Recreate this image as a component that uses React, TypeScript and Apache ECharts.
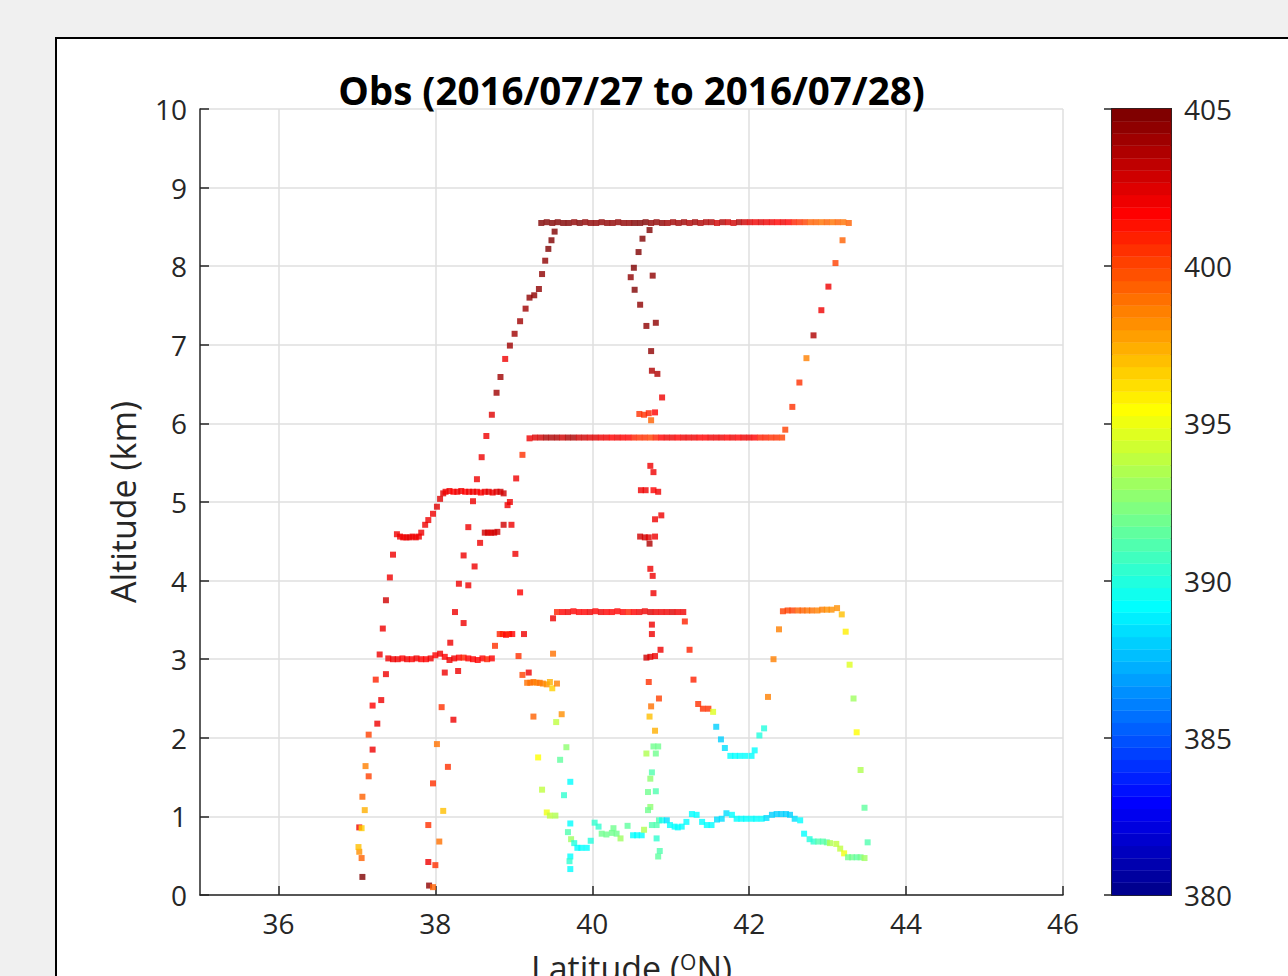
import React, { useEffect, useRef } from "react";
import * as echarts from "echarts";

const latTicks = [36, 38, 40, 42, 44, 46];
const latRange = [35, 46];
const altRange = [0, 10];
const co2Range = [380, 405];
const co2Ticks = [380, 385, 390, 395, 400, 405];

// [latitude, altitude km, CO2 ppm]
const spiralWest = [
  [37.07, 0.23, 405], [37.06, 0.47, 399.5], [37.03, 0.55, 398], [37.02, 0.61, 397], [37.03, 0.86, 402],
  [37.06, 0.85, 396.5], [37.1, 1.08, 397.5], [37.07, 1.25, 399.5], [37.15, 1.51, 400], [37.11, 1.64, 398.5],
  [37.2, 1.85, 402], [37.15, 2.04, 400], [37.26, 2.18, 402], [37.2, 2.41, 401.5], [37.31, 2.48, 402],
  [37.24, 2.74, 401], [37.37, 2.81, 402], [37.29, 3.06, 402], [37.33, 3.39, 402], [37.37, 3.75, 403],
  [37.42, 4.04, 402], [37.46, 4.33, 402], [37.51, 4.59, 402],
];

const level4p5 = [
  [37.55, 4.56, 402], [37.59, 4.55, 402], [37.63, 4.55, 402], [37.67, 4.55, 402.5], [37.71, 4.56, 402],
  [37.75, 4.55, 402], [37.79, 4.56, 402], [37.82, 4.61, 402], [37.87, 4.71, 402], [37.91, 4.77, 402],
  [37.97, 4.85, 402], [38.02, 4.94, 402.5], [38.06, 5.04, 402.5], [38.1, 5.11, 402.5],
];

const level5p1 = [
  [38.13, 5.13, 402], [38.18, 5.14, 402], [38.23, 5.13, 401.5], [38.28, 5.13, 402], [38.33, 5.14, 402],
  [38.38, 5.13, 401.5], [38.43, 5.13, 402], [38.48, 5.13, 402], [38.53, 5.13, 402], [38.58, 5.12, 401.5],
  [38.63, 5.13, 402], [38.68, 5.13, 402.5], [38.73, 5.12, 402], [38.78, 5.13, 402.5], [38.83, 5.13, 403],
  [38.87, 5.11, 403],
];

const descentMid = [
  [38.95, 5.0, 402], [38.92, 4.96, 402], [38.97, 4.71, 402], [38.87, 4.71, 403], [38.48, 5.01, 402],
  [38.42, 4.68, 402], [38.63, 4.61, 403], [38.67, 4.61, 403], [38.71, 4.61, 402.5], [38.75, 4.61, 403],
  [38.79, 4.62, 403], [38.57, 4.48, 402], [38.36, 4.32, 402], [39.02, 4.34, 402], [38.5, 4.18, 402],
  [38.3, 3.96, 402], [38.42, 3.94, 402], [39.08, 3.85, 401.5], [38.25, 3.6, 402], [38.36, 3.46, 402],
  [38.19, 3.21, 402], [38.76, 3.17, 400.5], [38.82, 3.32, 401], [38.86, 3.32, 401], [38.9, 3.31, 401.5],
  [38.94, 3.32, 401], [38.98, 3.32, 401.5], [39.13, 3.32, 402], [39.06, 3.04, 400.5], [39.11, 2.8, 400],
  [39.19, 2.83, 402],
];

const level3p0 = [
  [37.4, 3.01, 402], [37.46, 3.0, 402], [37.52, 3.0, 402], [37.58, 3.01, 401.5], [37.64, 3.0, 402],
  [37.7, 3.0, 401.5], [37.76, 3.01, 402], [37.82, 3.0, 401.5], [37.88, 3.0, 401.5], [37.94, 3.01, 402],
  [38.0, 3.05, 401.5], [38.06, 3.07, 402], [38.12, 3.03, 401.5], [38.18, 2.99, 402], [38.24, 3.01, 402],
  [38.3, 3.02, 401.5], [38.36, 3.02, 401], [38.42, 3.01, 401.5], [38.48, 3.0, 401.5], [38.54, 2.99, 401.5],
  [38.6, 3.01, 401.5], [38.66, 3.0, 401], [38.72, 3.01, 401.5],
];

const spiral38 = [
  [38.12, 2.83, 402], [38.29, 2.85, 402], [38.08, 2.39, 400.5], [38.23, 2.23, 402], [38.02, 1.92, 399],
  [38.16, 1.63, 400.5], [37.97, 1.42, 400.5], [38.1, 1.07, 397], [37.91, 0.89, 400.5], [38.05, 0.68, 399],
  [37.91, 0.42, 402], [38.0, 0.38, 400.5], [37.92, 0.12, 404.5], [37.97, 0.1, 399.5],
];

const climbHigh = [
  [38.53, 5.29, 402], [38.59, 5.57, 402], [38.65, 5.84, 402], [38.72, 6.11, 402.5], [38.78, 6.39, 404],
  [38.83, 6.59, 404], [38.89, 6.82, 402], [38.95, 6.99, 404], [39.01, 7.14, 404], [39.08, 7.3, 404],
  [39.15, 7.46, 404], [39.2, 7.6, 404.5], [39.26, 7.63, 404.5], [39.32, 7.71, 404.5], [39.36, 7.9, 404.5],
  [39.4, 8.07, 404.5], [39.44, 8.22, 405], [39.48, 8.33, 405], [39.52, 8.44, 405], [39.03, 5.3, 402],
  [39.11, 5.6, 400.5],
];

const level8p5 = [
  [39.35, 8.55, 405], [39.42, 8.56, 405], [39.49, 8.55, 405], [39.56, 8.56, 405], [39.63, 8.55, 405],
  [39.7, 8.55, 405], [39.77, 8.56, 404.5], [39.84, 8.55, 405], [39.91, 8.56, 404.5], [39.98, 8.55, 404.5],
  [40.05, 8.55, 404.5], [40.12, 8.56, 404.5], [40.19, 8.55, 404.5], [40.26, 8.55, 404.5], [40.33, 8.56, 404.5],
  [40.4, 8.55, 404.5], [40.47, 8.55, 404.5], [40.54, 8.55, 405], [40.61, 8.55, 405], [40.68, 8.56, 405],
  [40.75, 8.55, 404.5], [40.82, 8.56, 404.5], [40.89, 8.55, 404.5], [40.96, 8.55, 404], [41.03, 8.56, 404],
  [41.1, 8.55, 404], [41.17, 8.56, 404], [41.24, 8.55, 403.5], [41.31, 8.56, 404], [41.38, 8.55, 403.5],
  [41.45, 8.56, 403.5], [41.52, 8.56, 403.5], [41.59, 8.55, 403], [41.66, 8.56, 403.5], [41.73, 8.56, 403],
  [41.8, 8.55, 403], [41.87, 8.56, 403.5], [41.94, 8.56, 403], [42.01, 8.56, 402.5], [42.08, 8.56, 402],
  [42.15, 8.56, 402.5], [42.22, 8.56, 402], [42.29, 8.56, 402], [42.36, 8.56, 401.5], [42.43, 8.56, 402],
  [42.5, 8.56, 401.5], [42.57, 8.56, 401], [42.64, 8.56, 400.5], [42.71, 8.56, 400], [42.78, 8.56, 399.5],
  [42.85, 8.56, 399.5], [42.92, 8.56, 399], [42.99, 8.56, 399.5], [43.06, 8.56, 399], [43.13, 8.56, 399.5],
  [43.2, 8.56, 399], [43.27, 8.55, 399.5],
];

const level5p8 = [
  [39.2, 5.81, 402], [39.27, 5.82, 402.5], [39.34, 5.82, 403], [39.41, 5.82, 403.5], [39.48, 5.82, 403.5],
  [39.55, 5.82, 403.5], [39.62, 5.82, 403], [39.69, 5.82, 403.5], [39.76, 5.82, 403.5], [39.83, 5.82, 403],
  [39.9, 5.82, 403], [39.97, 5.82, 402.5], [40.04, 5.82, 402.5], [40.11, 5.82, 402], [40.18, 5.82, 402],
  [40.25, 5.82, 401.5], [40.32, 5.82, 402], [40.39, 5.82, 401.5], [40.46, 5.82, 401.5], [40.53, 5.82, 401],
  [40.6, 5.82, 400.5], [40.67, 5.82, 400.5], [40.74, 5.82, 400], [40.81, 5.82, 401], [40.88, 5.82, 401.5],
  [40.95, 5.82, 402], [41.02, 5.82, 402], [41.09, 5.82, 401.5], [41.16, 5.82, 402], [41.23, 5.82, 402],
  [41.3, 5.82, 402], [41.37, 5.82, 401.5], [41.44, 5.82, 401.5], [41.51, 5.82, 402], [41.58, 5.82, 402],
  [41.65, 5.82, 402], [41.72, 5.82, 401.5], [41.79, 5.82, 402], [41.86, 5.82, 401.5], [41.93, 5.82, 402],
  [42.0, 5.82, 402], [42.07, 5.82, 401.5], [42.14, 5.82, 401], [42.21, 5.82, 401], [42.28, 5.82, 400.5],
  [42.35, 5.82, 400.5], [42.42, 5.82, 400],
];

const level3p6 = [
  [39.55, 3.6, 401], [39.62, 3.6, 401.5], [39.69, 3.6, 402], [39.76, 3.61, 401.5], [39.83, 3.6, 401.5],
  [39.9, 3.6, 401.5], [39.97, 3.6, 402], [40.04, 3.61, 401.5], [40.11, 3.6, 402], [40.18, 3.6, 401.5],
  [40.25, 3.6, 401.5], [40.32, 3.61, 401.5], [40.39, 3.6, 401.5], [40.46, 3.6, 401], [40.53, 3.6, 401.5],
  [40.6, 3.6, 402], [40.67, 3.61, 402], [40.74, 3.6, 402.5], [40.81, 3.6, 402], [40.88, 3.6, 402],
  [40.95, 3.6, 402], [41.02, 3.6, 402.5], [41.09, 3.6, 402], [41.16, 3.6, 402],
];

const spiral40p8 = [
  [40.73, 8.46, 405], [40.64, 8.35, 405], [40.59, 8.18, 405], [40.53, 7.98, 405], [40.49, 7.86, 404.5],
  [40.77, 7.88, 404.5], [40.54, 7.7, 405], [40.61, 7.51, 404.5], [40.69, 7.24, 404.5], [40.81, 7.28, 404.5],
  [40.75, 6.92, 404.5], [40.76, 6.67, 403.5], [40.83, 6.63, 403.5], [40.89, 6.33, 402], [40.6, 6.12, 400.5],
  [40.66, 6.11, 400.5], [40.72, 6.13, 401], [40.8, 6.14, 401.5], [40.75, 6.04, 399.5], [40.74, 5.46, 402],
  [40.78, 5.38, 402], [40.62, 5.15, 402], [40.68, 5.15, 402], [40.78, 5.15, 401.5], [40.84, 5.13, 402],
  [40.88, 4.83, 402], [40.8, 4.78, 402], [40.61, 4.56, 403], [40.67, 4.55, 403], [40.72, 4.55, 402.5],
  [40.8, 4.56, 402], [40.73, 4.47, 403.5], [40.74, 4.15, 402], [40.77, 4.06, 402], [40.78, 3.84, 402],
  [40.76, 3.44, 402], [40.76, 3.32, 402], [40.87, 3.12, 402], [40.69, 3.02, 403], [40.74, 3.03, 402.5],
  [40.8, 3.04, 402], [40.72, 2.71, 400.5], [40.85, 2.5, 400], [40.75, 2.4, 399], [40.73, 2.27, 397],
  [40.8, 2.09, 397.5], [40.78, 1.89, 392], [40.84, 1.89, 392], [40.69, 1.8, 393.5], [40.81, 1.8, 392],
  [40.76, 1.56, 391], [40.74, 1.48, 392.5], [40.71, 1.31, 392], [40.81, 1.32, 391], [40.74, 1.12, 392.5],
  [40.71, 1.08, 392],
];

const profile39p6 = [
  [39.17, 2.7, 399], [39.21, 2.7, 399], [39.25, 2.71, 399], [39.29, 2.7, 398.5], [39.33, 2.7, 399],
  [39.37, 2.69, 398.5], [39.42, 2.68, 398], [39.46, 2.71, 397.5], [39.49, 2.63, 396.5], [39.55, 2.69, 398.5],
  [39.5, 3.07, 399], [39.5, 3.52, 402], [39.25, 2.27, 399.5], [39.61, 2.3, 398], [39.54, 2.2, 394],
  [39.67, 1.88, 392.5], [39.31, 1.75, 395.5], [39.59, 1.72, 391.5], [39.72, 1.44, 389], [39.64, 1.27, 390.5],
  [39.36, 1.34, 394], [39.42, 1.05, 395], [39.46, 1.01, 394], [39.53, 1.01, 393.5], [39.72, 0.91, 389],
  [39.69, 0.8, 391], [39.73, 0.71, 393], [39.77, 0.66, 390], [39.81, 0.6, 389], [39.86, 0.6, 389],
  [39.93, 0.6, 389], [39.98, 0.69, 390], [39.72, 0.49, 389], [39.71, 0.43, 390.5], [39.72, 0.33, 389],
];

const lowLeg = [
  [40.03, 0.92, 390.5], [40.08, 0.87, 390.5], [40.12, 0.78, 392], [40.18, 0.77, 392], [40.25, 0.79, 392],
  [40.31, 0.78, 392], [40.27, 0.85, 392], [40.36, 0.72, 393], [40.45, 0.88, 391.5], [40.52, 0.76, 389],
  [40.57, 0.76, 389], [40.63, 0.76, 389], [40.66, 0.83, 393.5], [40.76, 0.89, 391], [40.82, 0.89, 391],
  [40.85, 0.95, 391], [40.82, 0.72, 390.5], [40.86, 0.56, 391], [40.84, 0.49, 391.5], [40.89, 0.95, 389.5],
  [40.95, 0.95, 388.5], [40.99, 0.89, 389], [41.05, 0.87, 389], [41.09, 0.86, 389], [41.14, 0.87, 389],
  [41.2, 0.93, 389], [41.27, 1.03, 389], [41.33, 1.02, 389], [41.4, 0.93, 389], [41.46, 0.89, 389],
  [41.52, 0.89, 389], [41.59, 0.96, 388.5], [41.65, 0.97, 388.5], [41.71, 1.04, 388.5], [41.78, 1.02, 389],
  [41.84, 0.97, 389], [41.9, 0.97, 389], [41.96, 0.97, 389], [42.03, 0.97, 389], [42.09, 0.97, 389],
  [42.16, 0.97, 389], [42.22, 0.98, 388.5], [42.29, 1.02, 388], [42.35, 1.03, 388], [42.41, 1.03, 388],
  [42.47, 1.03, 388], [42.52, 1.02, 388], [42.58, 0.97, 388.5], [42.65, 0.95, 389], [42.7, 0.78, 389],
  [42.77, 0.71, 390], [42.82, 0.68, 390.5], [42.88, 0.68, 391], [42.94, 0.68, 391], [42.99, 0.67, 391.5],
  [43.03, 0.66, 393.5], [43.11, 0.65, 394], [43.16, 0.59, 394], [43.21, 0.53, 395], [43.26, 0.48, 392],
  [43.31, 0.48, 392], [43.37, 0.48, 391.5], [43.42, 0.48, 392], [43.47, 0.47, 393], [43.51, 0.67, 391],
];

const dip41p8 = [
  [41.18, 3.48, 401], [41.24, 3.12, 401], [41.29, 2.74, 401], [41.35, 2.43, 400.5], [41.41, 2.37, 400.5],
  [41.48, 2.37, 400.5], [41.54, 2.33, 394.5], [41.58, 2.14, 388], [41.64, 1.98, 388], [41.69, 1.87, 388.5],
  [41.76, 1.77, 389], [41.82, 1.77, 389], [41.88, 1.77, 389], [41.95, 1.77, 389], [42.03, 1.77, 389],
  [42.07, 1.84, 389], [42.13, 2.03, 390], [42.19, 2.12, 390],
];

const climbEast = [
  [42.24, 2.52, 398.5], [42.31, 3.0, 398.5], [42.38, 3.38, 398.5], [42.43, 3.61, 400], [42.49, 3.62, 400],
  [42.55, 3.62, 400], [42.62, 3.62, 399.5], [42.68, 3.62, 399.5], [42.74, 3.62, 399], [42.8, 3.62, 399],
  [42.87, 3.62, 398.5], [42.93, 3.63, 398.5], [42.99, 3.63, 398], [43.05, 3.63, 398], [43.12, 3.65, 398],
  [43.18, 3.57, 397], [43.23, 3.35, 396], [43.28, 2.93, 394.5], [43.33, 2.5, 393], [43.37, 2.07, 395.5],
  [43.42, 1.59, 393.5], [43.47, 1.11, 391.5],
];

const descentEast = [
  [42.46, 5.92, 400], [42.55, 6.21, 400.5], [42.64, 6.52, 400.5], [42.73, 6.83, 398.5], [42.82, 7.12, 403.5],
  [42.92, 7.44, 402], [43.01, 7.74, 402], [43.1, 8.04, 400], [43.19, 8.33, 399.5],
];

const allPoints = [
  ...spiralWest, ...level4p5, ...level5p1, ...descentMid, ...level3p0, ...spiral38, ...climbHigh,
  ...level8p5, ...level5p8, ...level3p6, ...spiral40p8, ...profile39p6, ...lowLeg, ...dip41p8,
  ...climbEast, ...descentEast,
];

const JET_LEVELS = 64;
const colorLevels = Array.from({ length: JET_LEVELS }, (_, i) => [i]);

function jetColor(i: number): string {
  const n = i + 1;
  const u = (k: number) => (k <= 16 ? k / 16 : k <= 31 ? 1 : (48 - k) / 16);
  const r = n >= 25 ? u(n - 24) : 0;
  const g = n >= 9 && n <= 55 ? u(n - 8) : 0;
  const b = n <= 39 ? u(n + 8) : 0;
  return `rgb(${Math.round(r * 255)},${Math.round(g * 255)},${Math.round(b * 255)})`;
}

function jetIndex(v: number): number {
  const t = (v - co2Range[0]) / (co2Range[1] - co2Range[0]);
  return Math.max(0, Math.min(JET_LEVELS - 1, Math.floor(t * JET_LEVELS)));
}

const FONT = "Open Sans";
const AX = "#262626";

export default function App() {
  const ref = useRef<HTMLDivElement>(null);
  useEffect(() => {
    if (!ref.current) return;
    const chart = echarts.init(ref.current, null, { renderer: "svg" });
    const option: any = {
      animation: false,
      backgroundColor: "#f0f0f0",
      textStyle: { fontFamily: FONT },
      graphic: [
        {
          type: "rect",
          z: -10,
          shape: { x: 56, y: 38, width: 1300, height: 1000 },
          style: { fill: "#ffffff", stroke: "#000000", lineWidth: 2 },
        },
      ],
      title: {
        text: "Obs (2016/07/27 to 2016/07/28)",
        left: 631.5,
        top: 70,
        padding: 0,
        textAlign: "center",
        textStyle: { fontFamily: FONT, fontSize: 38.5, fontWeight: "bold", color: "#000" },
      },
      grid: [
        { left: 200, top: 109, width: 863, height: 786, outerBoundsMode: "none", containLabel: false },
        {
          left: 1112, top: 109, width: 59, height: 786, show: true, outerBoundsMode: "none", containLabel: false,
          borderColor: AX, borderWidth: 2, backgroundColor: "transparent",
        },
      ],
      xAxis: [
        {
          type: "value", gridIndex: 0, min: latRange[0], max: latRange[1],
          name: "Latitude ({sup|O}N)",
          nameLocation: "middle", nameGap: 56,
          nameTextStyle: {
            fontFamily: FONT, fontSize: 34, color: AX,
            rich: { sup: { fontFamily: FONT, fontSize: 21, color: AX, verticalAlign: "top" } },
          },
          axisLine: { show: true, onZero: false, lineStyle: { color: AX, width: 1.5 } },
          axisTick: { show: true, inside: true, length: 9, customValues: latTicks, lineStyle: { color: AX, width: 1.5 } },
          axisLabel: { customValues: latTicks, fontFamily: FONT, fontSize: 28, color: AX, margin: 14 },
          splitLine: { show: true, lineStyle: { color: "#dfdfdf", width: 1.5 } },
        },
        { type: "value", gridIndex: 1, min: 0, max: 1, show: false },
      ],
      yAxis: [
        {
          type: "value", gridIndex: 0, min: altRange[0], max: altRange[1], interval: 1,
          name: "Altitude (km)", nameLocation: "middle", nameGap: 60,
          nameTextStyle: { fontFamily: FONT, fontSize: 34, color: AX },
          axisLine: { show: true, onZero: false, lineStyle: { color: AX, width: 1.5 } },
          axisTick: { show: true, inside: true, length: 9, lineStyle: { color: AX, width: 1.5 } },
          axisLabel: { fontFamily: FONT, fontSize: 28, color: AX, margin: 13 },
          splitLine: { show: true, lineStyle: { color: "#dfdfdf", width: 1.5 } },
        },
        {
          type: "value", gridIndex: 1, min: co2Range[0], max: co2Range[1], interval: 5, position: "right",
          axisLine: { show: false },
          axisTick: { show: true, inside: true, length: 8, customValues: co2Ticks, lineStyle: { color: AX, width: 1.5 } },
          axisLabel: { customValues: co2Ticks, fontFamily: FONT, fontSize: 28, color: AX, margin: 13 },
          splitLine: { show: false },
        },
      ],
      series: [
        {
          type: "scatter", xAxisIndex: 0, yAxisIndex: 0, symbol: "rect", symbolSize: 6,
          data: allPoints,
          itemStyle: { color: (p: any) => jetColor(jetIndex(p.value[2])) },
          z: 3,
        },
        {
          type: "custom", xAxisIndex: 1, yAxisIndex: 1, data: colorLevels, z: 1,
          renderItem: (_params: any, api: any) => {
            const i = api.value(0);
            const step = (co2Range[1] - co2Range[0]) / JET_LEVELS;
            const lo = co2Range[0] + i * step;
            const p1 = api.coord([0, lo]);
            const p2 = api.coord([1, lo + step]);
            const c = jetColor(i);
            return {
              type: "rect",
              shape: { x: p1[0], y: p2[1], width: p2[0] - p1[0], height: p1[1] - p2[1] },
              style: { fill: c, stroke: c, lineWidth: 0.4 },
            };
          },
        },
      ],
    };
    chart.setOption(option);
    return () => chart.dispose();
  }, []);
  return (
    <div
      ref={ref}
      style={{ position: "absolute", left: 0, top: 0, width: 1288, height: 976 }}
    />
  );
}
